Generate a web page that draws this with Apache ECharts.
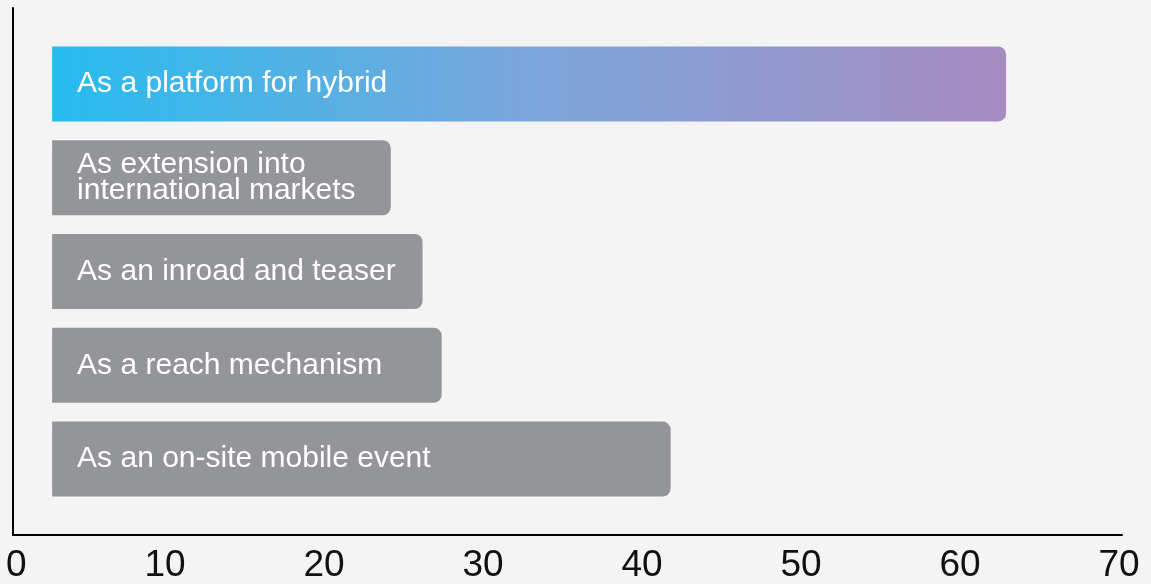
<!DOCTYPE html>
<html>
<head>
<meta charset="utf-8">
<style>
  html, body { margin: 0; padding: 0; background: #f4f4f4; }
  #chart { width: 1151px; height: 584px; }
</style>
<script src="https://cdn.jsdelivr.net/npm/echarts@6/dist/echarts.min.js"></script>
</head>
<body>
<div id="chart"></div>
<script>
// Categories, top to bottom
const categories = [
  'As a platform for hybrid',
  'As extension into\ninternational markets',
  'As an inroad and teaser',
  'As a reach mechanism',
  'As an on-site mobile event'
];
// Bars float: each starts at barStart and ends at its value
const barStart = 2.9;
const barEnd = [62.9, 24.2, 26.2, 27.4, 41.8];
// Axis ticks
const tickValues = [0, 10, 20, 30, 40, 50, 60, 70];

const chart = echarts.init(document.getElementById('chart'));

const highlight = new echarts.graphic.LinearGradient(0, 0, 1, 0, [
  { offset: 0, color: '#27bcef' },
  { offset: 0.5, color: '#7ba6da' },
  { offset: 1, color: '#a78bc2' }
]);
const grey = '#949599';

const lengths = barEnd.map((v, i) => ({
  value: +(v - barStart).toFixed(3),
  itemStyle: { color: i === 0 ? highlight : grey }
}));

chart.setOption({
  backgroundColor: '#f4f4f4',
  animation: false,
  grid: [
    { left: 6, right: 32, top: 37, bottom: 78 },
    { left: 13, right: 29, top: 8, bottom: 49 }
  ],
  xAxis: [
    {
      gridIndex: 0,
      type: 'value',
      min: tickValues[0],
      max: tickValues[tickValues.length - 1],
      interval: 10,
      splitLine: { show: false },
      axisLine: { show: false },
      axisTick: { show: false },
      axisLabel: {
        show: true,
        margin: 41,
        fontSize: 37,
        color: '#111',
        fontFamily: 'Liberation Sans, Arial, sans-serif',
        alignMinLabel: 'left'
      }
    },
    {
      gridIndex: 1,
      type: 'value',
      min: 0,
      max: 1,
      splitLine: { show: false },
      axisTick: { show: false },
      axisLabel: { show: false },
      axisLine: { show: true, lineStyle: { color: '#000', width: 2 } }
    }
  ],
  yAxis: [
    {
      gridIndex: 0,
      type: 'category',
      data: categories,
      inverse: true,
      axisLine: { show: false },
      axisTick: { show: false },
      axisLabel: { show: false }
    },
    {
      gridIndex: 1,
      type: 'value',
      min: 0,
      max: 1,
      splitLine: { show: false },
      axisTick: { show: false },
      axisLabel: { show: false },
      axisLine: { show: true, lineStyle: { color: '#000', width: 2 } }
    }
  ],
  series: [
    {
      type: 'bar',
      xAxisIndex: 0,
      yAxisIndex: 0,
      stack: 'bars',
      silent: true,
      barCategoryGap: '20%',
      itemStyle: { color: 'transparent' },
      data: categories.map(() => barStart)
    },
    {
      type: 'bar',
      xAxisIndex: 0,
      yAxisIndex: 0,
      stack: 'bars',
      barCategoryGap: '20%',
      itemStyle: { borderRadius: [0, 8, 8, 0] },
      label: {
        show: true,
        position: 'insideLeft',
        distance: 25,
        formatter: '{b}',
        color: '#ffffff',
        fontSize: 30,
        lineHeight: 26,
        fontFamily: 'Liberation Sans, Arial, sans-serif'
      },
      data: lengths
    }
  ]
});
</script>
</body>
</html>
